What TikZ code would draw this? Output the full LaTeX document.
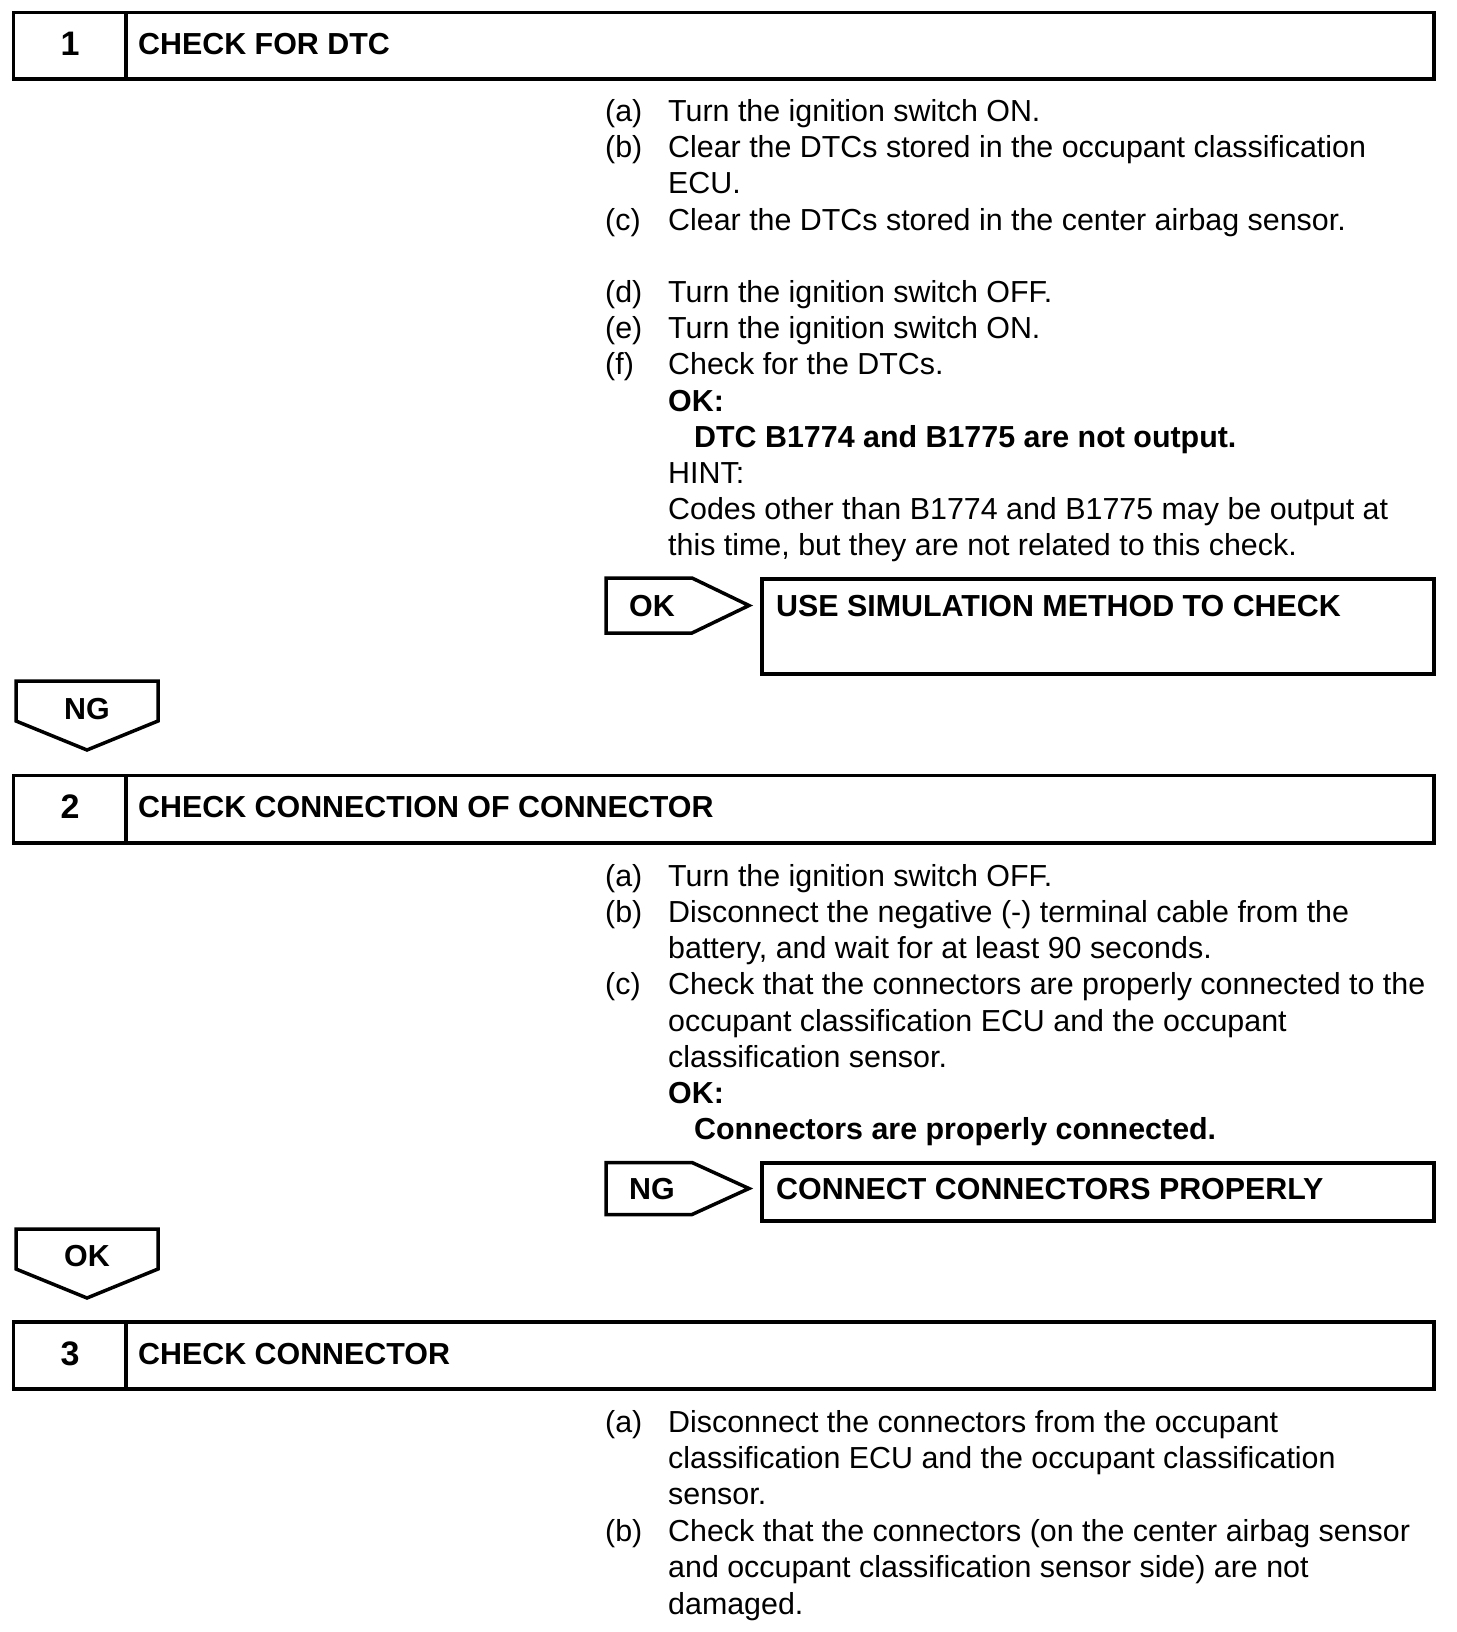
\documentclass[tikz,border=0pt]{standalone}
\usepackage{fontspec}
\setmainfont{Liberation Sans}
\begin{document}
\begin{tikzpicture}[x=1pt,y=-1pt,
  frame/.style={draw=black,line width=3.5pt,line join=miter},
  body/.style={anchor=base west,inner sep=0pt,font=\fontsize{30.4}{36}\selectfont},
  bold/.style={anchor=base west,inner sep=0pt,font=\fontsize{30.4}{36}\selectfont\bfseries},
  mid/.style={anchor=base,inner sep=0pt,font=\fontsize{30.4}{36}\selectfont\bfseries},
  num/.style={anchor=base,inner sep=0pt,font=\fontsize{34}{40}\selectfont\bfseries}]
\useasboundingbox[fill=white] (0,0) rectangle (1456,1632);

% ---------- Step 1 ----------
\draw[frame] (13.5,12.5) rectangle (1434,79);
\draw[frame] (126,12.5) -- (126,79);
\node[num]  (n1) at (70,55.5) {1};
\node[bold] (h1) at (138,54.5) {CHECK FOR DTC};

\node[body] (l1a) at (605,121.5) {(a)};
\node[body] (t1a) at (668,121.5) {Turn the ignition switch ON.};
\node[body] (l1b) at (605,157.7) {(b)};
\node[body] (t1b) at (668,157.7) {Clear the DTCs stored in the occupant classification};
\node[body] (t1b2) at (668,193.9) {ECU.};
\node[body] (l1c) at (605,230.1) {(c)};
\node[body] (t1c) at (668,230.1) {Clear the DTCs stored in the center airbag sensor.};
\node[body] (l1d) at (605,302.5) {(d)};
\node[body] (t1d) at (668,302.5) {Turn the ignition switch OFF.};
\node[body] (l1e) at (605,338.7) {(e)};
\node[body] (t1e) at (668,338.7) {Turn the ignition switch ON.};
\node[body] (l1f) at (605,374.9) {(f)};
\node[body] (t1f) at (668,374.9) {Check for the DTCs.};
\node[bold] (ok1) at (668,411.1) {OK:};
\node[bold] (ok1t) at (694,447.3) {DTC B1774 and B1775 are not output.};
\node[body] (hint) at (668,483.5) {HINT:};
\node[body] (hint1) at (668,519.7) {Codes other than B1774 and B1775 may be output at};
\node[body] (hint2) at (668,555.9) {this time, but they are not related to this check.};

\draw[frame] (606,578) -- (692,578) -- (749,605.5) -- (692,633) -- (606,633) -- cycle;
\node[mid] (okr) at (652,616) {OK};
\draw[frame] (762,579) rectangle (1434,674);
\node[bold] (r1) at (776,616) {USE SIMULATION METHOD TO CHECK};

\draw[frame] (16,681) -- (158,681) -- (158,721) -- (87,750) -- (16,721) -- cycle;
\node[mid] (ngd) at (87,719) {NG};

% ---------- Step 2 ----------
\draw[frame] (13.5,775.5) rectangle (1434,843);
\draw[frame] (126,775.5) -- (126,843);
\node[num]  (n2) at (70,818.5) {2};
\node[bold] (h2) at (138,817.5) {CHECK CONNECTION OF CONNECTOR};

\node[body] (l2a) at (605,886.2) {(a)};
\node[body] (t2a) at (668,886.2) {Turn the ignition switch OFF.};
\node[body] (l2b) at (605,922.4) {(b)};
\node[body] (t2b) at (668,922.4) {Disconnect the negative (-) terminal cable from the};
\node[body] (t2b2) at (668,958.6) {battery, and wait for at least 90 seconds.};
\node[body] (l2c) at (605,994.8) {(c)};
\node[body] (t2c) at (668,994.8) {Check that the connectors are properly connected to the};
\node[body] (t2c2) at (668,1031) {occupant classification ECU and the occupant};
\node[body] (t2c3) at (668,1067.2) {classification sensor.};
\node[bold] (ok2) at (668,1103.4) {OK:};
\node[bold] (ok2t) at (694,1139.6) {Connectors are properly connected.};

\draw[frame] (606,1162.5) -- (692,1162.5) -- (749,1188.5) -- (692,1214.5) -- (606,1214.5) -- cycle;
\node[mid] (ngr) at (652,1199) {NG};
\draw[frame] (762,1163) rectangle (1434,1221);
\node[bold] (r2) at (776,1199) {CONNECT CONNECTORS PROPERLY};

\draw[frame] (16,1229) -- (158,1229) -- (158,1269) -- (87,1298) -- (16,1269) -- cycle;
\node[mid] (okd) at (87,1266) {OK};

% ---------- Step 3 ----------
\draw[frame] (13.5,1322) rectangle (1434,1389);
\draw[frame] (126,1322) -- (126,1389);
\node[num]  (n3) at (70,1365) {3};
\node[bold] (h3) at (138,1364) {CHECK CONNECTOR};

\node[body] (l3a) at (605,1432) {(a)};
\node[body] (t3a) at (668,1432) {Disconnect the connectors from the occupant};
\node[body] (t3a2) at (668,1468.4) {classification ECU and the occupant classification};
\node[body] (t3a3) at (668,1504.8) {sensor.};
\node[body] (l3b) at (605,1541.2) {(b)};
\node[body] (t3b) at (668,1541.2) {Check that the connectors (on the center airbag sensor};
\node[body] (t3b2) at (668,1577.6) {and occupant classification sensor side) are not};
\node[body] (t3b3) at (668,1614) {damaged.};
\end{tikzpicture}
\end{document}
